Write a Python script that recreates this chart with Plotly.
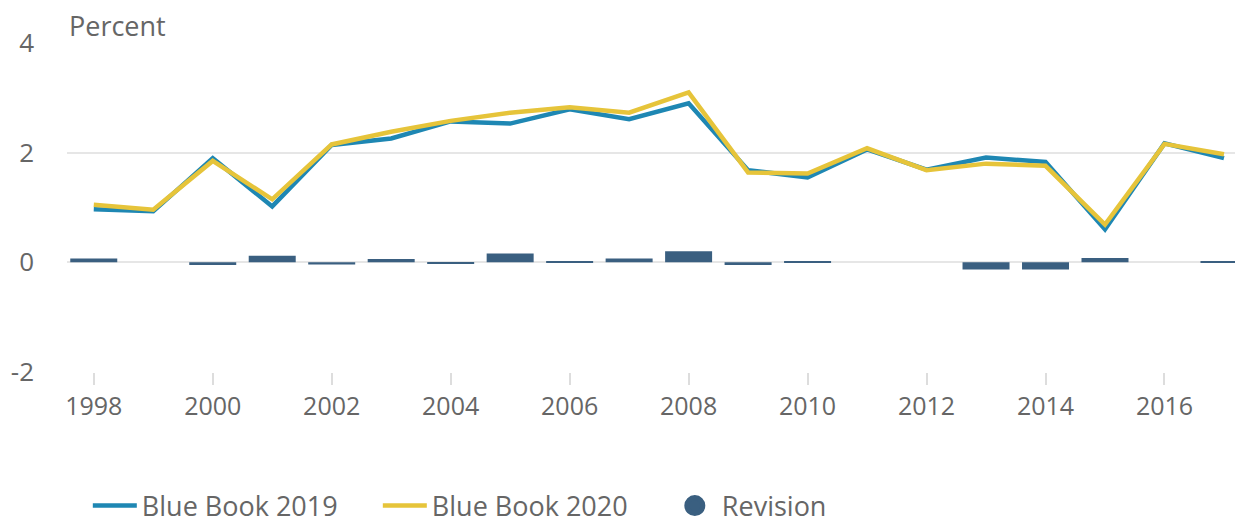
import plotly.graph_objects as go

years = list(range(1998, 2018))
bb2019 = [0.97, 0.93, 1.90, 1.02, 2.14, 2.26, 2.57, 2.53, 2.79, 2.61, 2.90, 1.68, 1.55, 2.06, 1.69, 1.91, 1.83, 0.60, 2.17, 1.90]
bb2020 = [1.05, 0.96, 1.85, 1.15, 2.15, 2.38, 2.58, 2.73, 2.83, 2.73, 3.10, 1.64, 1.62, 2.08, 1.68, 1.80, 1.76, 0.69, 2.16, 1.97]
revision = [0.07, 0.0, -0.05, 0.12, -0.04, 0.06, -0.03, 0.16, 0.02, 0.07, 0.20, -0.05, 0.02, 0.0, 0.0, -0.13, -0.13, 0.08, 0.0, 0.02]
xticks = list(range(1998, 2017, 2))
yticks = [-2, 0, 2, 4]
yticklabels = ["-2", "0", "2", "4"]

BLUE = "#1e87b3"
YELLOW = "#e6c43a"
BAR = "#3a5f80"
GREY = "#666666"
FONT = "Open Sans"

fig = go.Figure()
fig.add_trace(go.Bar(x=years, y=revision, marker=dict(color=BAR, line=dict(width=0)),
                     width=0.79, showlegend=False, name="Revision"))
fig.add_trace(go.Scatter(x=years, y=bb2019, mode="lines", name="Blue Book 2019",
                         line=dict(color=BLUE, width=4.5)))
fig.add_trace(go.Scatter(x=years, y=bb2020, mode="lines", name="Blue Book 2020",
                         line=dict(color=YELLOW, width=4.5)))
fig.add_trace(go.Scatter(x=[None], y=[None], mode="markers", name="Revision",
                         marker=dict(color=BAR, size=26, symbol="circle",
                                     line=dict(color=BAR, width=5))))

fig.update_layout(
    width=1235, height=560,
    margin=dict(l=59, r=0, t=35, b=196),
    paper_bgcolor="white", plot_bgcolor="white",
    font=dict(family=FONT, color=GREY, size=22),
    bargap=0.2,
    legend=dict(orientation="h", x=0.0177, xanchor="left", y=-0.4073, yanchor="middle",
                font=dict(size=27, color=GREY), itemwidth=44, tracegroupgap=0,
                entrywidth=231, entrywidthmode="pixels"),
    annotations=[dict(text="Percent", xref="paper", yref="paper", x=0, y=1.052,
                      xanchor="left", yanchor="middle", showarrow=False,
                      font=dict(size=27, color=GREY))],
)
fig.update_xaxes(range=[1997.55, 2017.32], tickvals=xticks, ticks="outside", ticklen=12,
                 tickcolor="#dddddd", tickwidth=2, showgrid=False, zeroline=False,
                 showline=False, automargin=False, ticklabelstandoff=0,
                 tickfont=dict(size=25, color=GREY))
fig.update_yaxes(range=[-2, 4], tickvals=yticks, ticktext=yticklabels, showgrid=True,
                 gridcolor="#e6e6e6", gridwidth=2, zeroline=True, zerolinecolor="#e6e6e6",
                 zerolinewidth=2, ticks="", ticklabelstandoff=32, automargin=False,
                 tickfont=dict(size=26, color=GREY))

fig.write_html("out.html")
